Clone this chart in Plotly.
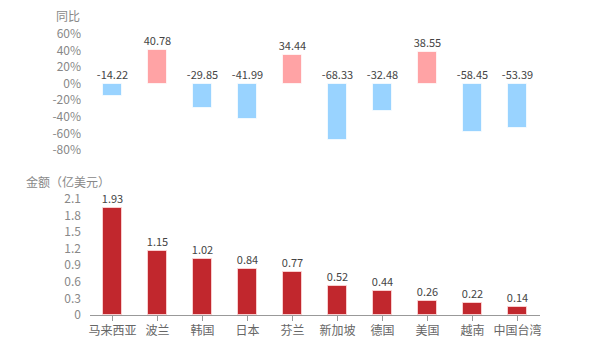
import plotly.graph_objects as go

categories = ["马来西亚", "波兰", "韩国", "日本", "芬兰", "新加坡", "德国", "美国", "越南", "中国台湾"]
yoy = [-14.22, 40.78, -29.85, -41.99, 34.44, -68.33, -32.48, 38.55, -58.45, -53.39]
amount = [1.93, 1.15, 1.02, 0.84, 0.77, 0.52, 0.44, 0.26, 0.22, 0.14]
yoy_ticks = [60, 40, 20, 0, -20, -40, -60, -80]
amt_ticks = [0, 0.3, 0.6, 0.9, 1.2, 1.5, 1.8, 2.1]

FONT = "Noto Sans CJK SC, Microsoft YaHei, sans-serif"
POS = "#FFA3A5"
NEG = "#99D3FF"
RED = "#C1272D"
TICK = "#888888"
LABEL = "#444444"

fig = go.Figure()

fig.add_trace(go.Bar(
    x=categories, y=yoy, xaxis="x2", yaxis="y2",
    marker=dict(color=[POS if v >= 0 else NEG for v in yoy],
                line=dict(color="rgba(255,255,255,0.7)", width=1)),
    width=0.44, hoverinfo="x+y", showlegend=False,
))
fig.add_trace(go.Scatter(
    x=categories, y=[max(v, 0) for v in yoy], xaxis="x2", yaxis="y2",
    mode="markers+text", marker=dict(size=2, color="rgba(0,0,0,0)"),
    text=[f"{v:.2f}" for v in yoy], textposition="top center", cliponaxis=False,
    textfont=dict(family=FONT, size=11, color=LABEL), showlegend=False, hoverinfo="skip",
))

fig.add_trace(go.Bar(
    x=categories, y=amount, xaxis="x", yaxis="y",
    marker=dict(color=RED, line=dict(color="rgba(255,220,220,0.8)", width=1)),
    width=0.44, hoverinfo="x+y", showlegend=False,
))
fig.add_trace(go.Scatter(
    x=categories, y=amount, xaxis="x", yaxis="y",
    mode="markers+text", marker=dict(size=2, color="rgba(0,0,0,0)"),
    text=[f"{v:.2f}" for v in amount], textposition="top center", cliponaxis=False,
    textfont=dict(family=FONT, size=11, color=LABEL), showlegend=False, hoverinfo="skip",
))

xr = [-0.5, len(categories) - 0.5]

fig.update_layout(
    width=600, height=350,
    margin=dict(l=90, r=60, t=0, b=0, autoexpand=False),
    paper_bgcolor="white", plot_bgcolor="white",
    font=dict(family=FONT, size=12, color=TICK),
    bargap=0,
    xaxis=dict(domain=[0, 1], anchor="y", type="category", automargin=False, range=xr,
               showline=True, linecolor="#999999", linewidth=1,
               ticks="outside", ticklen=5, tickcolor="#999999",
               tickfont=dict(family=FONT, size=12, color="#666666"),
               showgrid=False, zeroline=False),
    yaxis=dict(domain=[0.1, 0.4314], range=[0, 2.1], tickvals=amt_ticks,
               ticktext=[f"{t:g}" for t in amt_ticks], automargin=False,
               showgrid=False, zeroline=False, showline=False,
               ticklabelstandoff=8,
               tickfont=dict(family=FONT, size=12, color=TICK)),
    xaxis2=dict(domain=[0, 1], anchor="y2", type="category", range=xr,
                showticklabels=False, showline=False, ticks="", automargin=False,
                showgrid=False, zeroline=False),
    yaxis2=dict(domain=[0.5714, 0.9029], range=[-80, 60], tickvals=yoy_ticks,
                ticktext=[f"{t}%" for t in yoy_ticks], automargin=False,
                showgrid=False, zeroline=False, showline=False,
                ticklabelstandoff=8,
                tickfont=dict(family=FONT, size=12, color=TICK)),
    annotations=[
        dict(text="同比", xref="paper", yref="paper", x=-8/450, y=(350-16)/350,
             xanchor="right", yanchor="middle", showarrow=False,
             font=dict(family=FONT, size=12, color=TICK)),
        dict(text="金额（亿美元）", xref="paper", yref="paper", x=(68-90)/450, y=(350-181)/350,
             xanchor="center", yanchor="middle", showarrow=False,
             font=dict(family=FONT, size=12, color=TICK)),
    ],
)

fig.write_html("out.html")
